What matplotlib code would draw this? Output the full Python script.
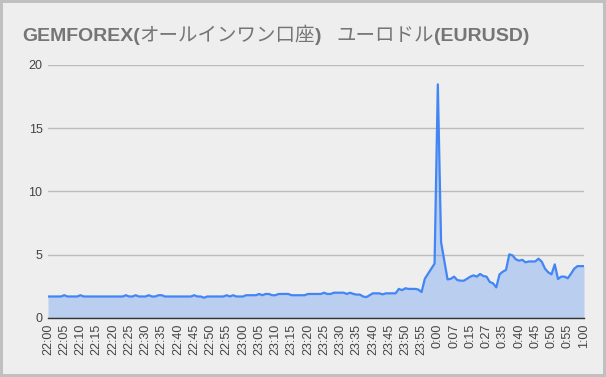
import matplotlib.pyplot as plt
from matplotlib.patches import Rectangle

title_parts = [("GEMFOREX(", "bold"), ("オールインワン口座", "normal"), (")", "bold"),
               ("ユーロドル", "normal"), ("(EURUSD)", "bold")]

tick_labels = ["22:00", "22:05", "22:10", "22:15", "22:20", "22:25", "22:30", "22:35",
               "22:40", "22:45", "22:50", "22:55", "23:00", "23:05", "23:10", "23:15",
               "23:20", "23:25", "23:30", "23:35", "23:40", "23:45", "23:50", "23:55",
               "0:00", "0:07", "0:15", "0:27", "0:35", "0:40", "0:45", "0:50", "0:55", "1:00"]

# one value per sample, a label every 5 samples
spread_part1 = [1.7, 1.7, 1.7, 1.7, 1.7, 1.8, 1.7, 1.7, 1.7, 1.7,
                1.8, 1.7, 1.7, 1.7, 1.7, 1.7, 1.7, 1.7, 1.7, 1.7,
                1.7, 1.7, 1.7, 1.7, 1.8, 1.7, 1.7, 1.8, 1.7, 1.7,
                1.7, 1.8, 1.7, 1.7, 1.8, 1.8, 1.7, 1.7, 1.7, 1.7,
                1.7, 1.7, 1.7, 1.7, 1.7, 1.8, 1.7, 1.7, 1.6, 1.7,
                1.7, 1.7, 1.7, 1.7, 1.7, 1.8, 1.7, 1.8, 1.7, 1.7]
spread_part2 = [1.7, 1.8, 1.8, 1.8, 1.8, 1.9, 1.8, 1.9, 1.9, 1.8,
                1.8, 1.9, 1.9, 1.9, 1.9, 1.8, 1.8, 1.8, 1.8, 1.8,
                1.9, 1.9, 1.9, 1.9, 1.9, 2.0, 1.9, 1.9, 2.0, 2.0,
                2.0, 2.0, 1.9, 2.0, 1.9, 1.85, 1.85, 1.7, 1.65, 1.8,
                1.95, 1.95, 1.95, 1.87, 1.95, 1.95, 1.95, 1.95, 2.3, 2.2,
                2.35, 2.3, 2.3, 2.3, 2.25, 2.05, 3.1, 3.5, 3.9, 4.3]
spread_part3 = [18.47, 6.0, 4.5, 3.05, 3.1, 3.27, 3.0, 2.95, 2.95, 3.1,
                3.27, 3.37, 3.27, 3.48, 3.32, 3.27, 2.85, 2.74, 2.42, 3.45,
                3.66, 3.8, 5.03, 4.95, 4.64, 4.53, 4.6, 4.4, 4.47, 4.47,
                4.47, 4.69, 4.45, 3.9, 3.61, 3.45, 4.24, 3.08, 3.27, 3.27,
                3.14, 3.5, 3.9, 4.1, 4.1, 4.1]
spread = spread_part1 + spread_part2 + spread_part3
x = list(range(len(spread)))

fig = plt.figure(figsize=(6.06, 3.77), dpi=100, facecolor="#c0c0c0")
fig.patches.append(Rectangle((3 / 606, 3 / 377), 1 - 6 / 606, 1 - 6 / 377,
                             transform=fig.transFigure, facecolor="#eeeeee",
                             edgecolor="none", zorder=-5))

ax = fig.add_axes([48 / 606, 59 / 377, 536 / 606, 253 / 377])
ax.set_facecolor("#eeeeee")
ax.fill_between(x, spread, 0, color="#4285f4", alpha=0.3, linewidth=0)
ax.plot(x, spread, color="#4285f4", linewidth=1.6)

ax.set_xlim(0, len(spread) - 1)
ax.set_ylim(0, 20)
ax.set_yticks([0, 5, 10, 15, 20])
ax.set_xticks(range(0, len(spread), 5))
ax.set_xticklabels(tick_labels, rotation=90)
ax.tick_params(length=0, labelsize=9, colors="#444444", pad=4)
for lab in ax.get_xticklabels() + ax.get_yticklabels():
    lab.set_family(["Liberation Sans", "DejaVu Sans"])
ax.grid(axis="y", color="#bbbbbb", linewidth=1)
ax.set_axisbelow(True)
for side in ["top", "right", "left"]:
    ax.spines[side].set_visible(False)
ax.spines["bottom"].set_color("#333333")
ax.spines["bottom"].set_linewidth(1)

# title: latin bold, japanese regular, pieces placed one after another
renderer = fig.canvas.get_renderer()
xpos = 22
gaps = {2: 15}
for i, (part, weight) in enumerate(title_parts):
    t = fig.text(xpos / 606, 1 - 41 / 377, part, fontsize=14, fontweight=weight,
                 color="#757575", va="baseline",
                 family=["Liberation Sans", "Noto Sans CJK JP"])
    xpos += t.get_window_extent(renderer).width + gaps.get(i, 0)

fig.savefig("out.png", dpi=100, facecolor=fig.get_facecolor())
